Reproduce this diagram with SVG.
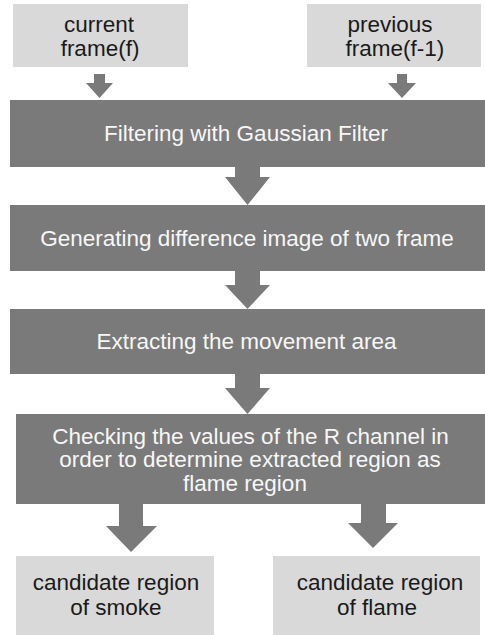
<svg xmlns="http://www.w3.org/2000/svg" width="485" height="635" viewBox="0 0 485 635">
<style>
.light{fill:#d9d9d9}
.dark{fill:#7a7a7a}
.arrow{fill:#7a7a7a}
text{font-family:"Liberation Sans",Arial,sans-serif;font-size:22.5px;text-anchor:middle}
.tl{fill:#1a1a1a}
.td{fill:#f7f7f7}
</style>
<rect width="485" height="635" fill="#ffffff"/>
<g id="connectors">
<polygon class="arrow" points="94,74 105,74 105,83 113,83 99.5,98 86,83 94,83"/>
<polygon class="arrow" points="397,74 407,74 407,83 416,83 402,98 388,83 397,83"/>
<polygon class="arrow" points="235,166 260,166 260,177 270,177 247.5,205 225,177 235,177"/>
<polygon class="arrow" points="235,270 260,270 260,285 270,285 247.5,309 225,285 235,285"/>
<polygon class="arrow" points="235,373 260,373 260,388 270,388 247.5,414 225,388 235,388"/>
<polygon class="arrow" points="119,503 143,503 143,526 157,526 131,552 106,526 119,526"/>
<polygon class="arrow" points="361,503 386,503 386,523 398,523 373,548 348,523 361,523"/>
</g>
<g id="current">
<rect class="light" x="13" y="4" width="175" height="63"/>
<text class="tl" x="99" y="32">current</text>
<text class="tl" x="100" y="55.5">frame(f)</text>
</g>
<g id="previous">
<rect class="light" x="307" y="4" width="174" height="63"/>
<text class="tl" x="390" y="32">previous</text>
<text class="tl" x="395" y="55.5">frame(f-1)</text>
</g>
<g id="filter">
<rect class="dark" x="10" y="100" width="475" height="67"/>
<text class="td" x="246" y="141">Filtering with Gaussian Filter</text>
</g>
<g id="difference">
<rect class="dark" x="10" y="205" width="475" height="66"/>
<text class="td" x="247" y="246">Generating difference image of two frame</text>
</g>
<g id="movement">
<rect class="dark" x="10" y="309" width="475" height="65"/>
<text class="td" x="246.5" y="349">Extracting the movement area</text>
</g>
<g id="checking">
<rect class="dark" x="16" y="414" width="469" height="90"/>
<text class="td" x="250.5" y="443.5">Checking the values of the R channel in</text>
<text class="td" x="250" y="467">order to determine extracted region as</text>
<text class="td" x="245" y="490.5">flame region</text>
</g>
<g id="smoke">
<rect class="light" x="16" y="556" width="198" height="79"/>
<text class="tl" x="116" y="590">candidate region</text>
<text class="tl" x="116" y="615">of smoke</text>
</g>
<g id="flame">
<rect class="light" x="273" y="556" width="207" height="79"/>
<text class="tl" x="380" y="590">candidate region</text>
<text class="tl" x="377" y="615">of flame</text>
</g>
</svg>
